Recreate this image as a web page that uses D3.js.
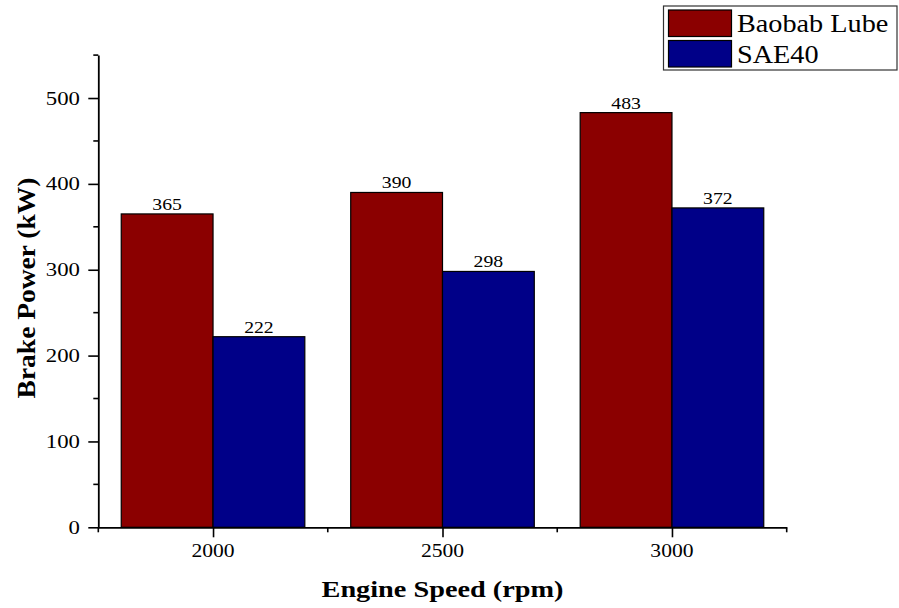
<!DOCTYPE html>
<html>
<head>
<meta charset="utf-8">
<script src="https://cdn.jsdelivr.net/npm/d3@7"></script>
<style>
  html, body { margin: 0; padding: 0; background: #fff; }
  svg { display: block; }
  text { font-family: "Liberation Serif", "Times New Roman", serif; fill: #000; }
</style>
</head>
<body>
<svg id="chart" width="899" height="608"></svg>
<script>
// Engine speeds (rpm) and brake power (kW) for each lubricant
const speeds = [2000, 2500, 3000];
const baobabLube = [365, 390, 483];
const sae40 = [222, 298, 372];
const seriesNames = ["Baobab Lube", "SAE40"];
const seriesColors = ["#8b0000", "#000088"];
const yMajorTicks = [0, 100, 200, 300, 400, 500];
const yMinorTicks = [50, 150, 250, 350, 450, 550];
const xMinorTicks = [1750, 2250, 2750, 3250];
const barSpan = 200; // rpm covered by each bar

const svg = d3.select("#chart");
const STRETCH = 1.2; // wide serif lettering

const x = d3.scaleLinear().domain([1750, 3250]).range([98.3, 786.7]);
const y = d3.scaleLinear().domain([0, 550]).range([527.3, 55.1]);

// text with horizontal stretch, anchored at (px, py)
function label(g, str, px, py, opts) {
  const o = Object.assign({ size: 18, anchor: "middle", weight: "normal", rotate: 0, stretch: STRETCH }, opts || {});
  return g.append("text")
    .attr("transform", `translate(${px},${py}) rotate(${o.rotate}) scale(${o.stretch},1)`)
    .attr("text-anchor", o.anchor)
    .attr("font-size", o.size)
    .attr("font-weight", o.weight)
    .text(str);
}

// bars
const rows = speeds.map((s, i) => ({ speed: s, vals: [baobabLube[i], sae40[i]] }));
const gBars = svg.append("g");
rows.forEach(r => {
  r.vals.forEach((v, k) => {
    const x0 = x(r.speed - barSpan + k * barSpan);
    const x1 = x(r.speed + k * barSpan);
    gBars.append("rect")
      .attr("x", x0).attr("y", y(v))
      .attr("width", x1 - x0).attr("height", y(0) - y(v))
      .attr("fill", seriesColors[k])
      .attr("stroke", "#000").attr("stroke-width", 1.2);
    label(gBars, String(v), (x0 + x1) / 2, y(v) - 4, { size: 17, stretch: 1.16 });
  });
});

// axes
const axisStyle = g => {
  g.selectAll(".domain").attr("stroke", "#000").attr("stroke-width", 1.8);
  g.selectAll(".tick line").attr("stroke", "#000").attr("stroke-width", 1.6);
};

const gx = svg.append("g").attr("transform", `translate(0,${y(0)})`);
gx.call(d3.axisBottom(x).tickValues(speeds).tickSize(10).tickSizeOuter(0).tickFormat(""));
gx.call(axisStyle);
gx.selectAll(".minor").data(xMinorTicks).enter().append("line")
  .attr("x1", d => x(d)).attr("x2", d => x(d)).attr("y1", 0).attr("y2", 5)
  .attr("stroke", "#000").attr("stroke-width", 1.6);
speeds.forEach(s => label(svg, String(s), x(s), 557, { size: 18 }));

const gy = svg.append("g").attr("transform", `translate(${x(1750)},0)`);
gy.call(d3.axisLeft(y).tickValues(yMajorTicks).tickSize(10).tickSizeOuter(0).tickFormat(""));
gy.call(axisStyle);
gy.selectAll(".minor").data(yMinorTicks).enter().append("line")
  .attr("x1", -5).attr("x2", 0).attr("y1", d => y(d)).attr("y2", d => y(d))
  .attr("stroke", "#000").attr("stroke-width", 1.6);
yMajorTicks.forEach(t => label(svg, String(t), 80, y(t) + 6.5, { size: 19, anchor: "end" }));

// axis titles
label(svg, "Engine Speed (rpm)", 442.5, 597, { size: 23, weight: "bold", stretch: 1.23 });
label(svg, "Brake Power (kW)", 35, 288, { size: 25, weight: "bold", rotate: -90, stretch: 1.1 });

// legend
const gL = svg.append("g");
gL.append("rect").attr("x", 663.5).attr("y", 6).attr("width", 233.5).attr("height", 64)
  .attr("fill", "#fff").attr("stroke", "#333").attr("stroke-width", 1.2);
seriesNames.forEach((name, k) => {
  const top = 10 + k * 30.5;
  gL.append("rect").attr("x", 668.5).attr("y", top).attr("width", 63).attr("height", 26.5)
    .attr("fill", seriesColors[k]).attr("stroke", "#000").attr("stroke-width", 1.2);
  label(gL, name, 737, top + 22, { size: 25, anchor: "start", stretch: 1.13 });
});
</script>
</body>
</html>
